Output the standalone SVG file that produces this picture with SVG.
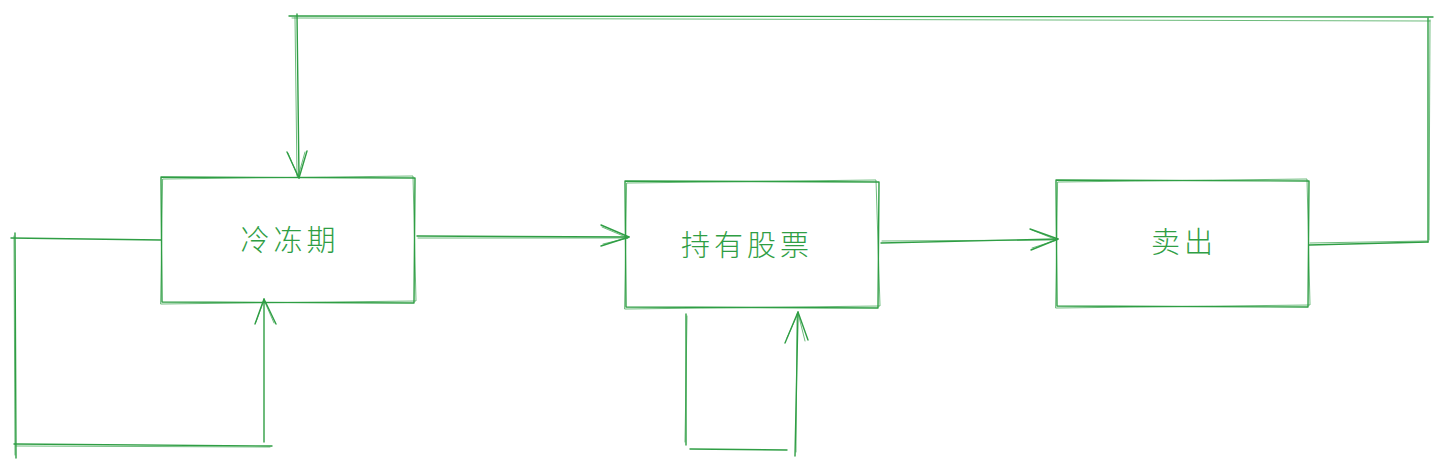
<svg xmlns="http://www.w3.org/2000/svg" width="1443" height="468" viewBox="0 0 1443 468">
<style>
.s{fill:none;stroke:#2f9e44;stroke-width:1.4;stroke-linecap:round;stroke-linejoin:round}
.s2{fill:none;stroke:#2f9e44;stroke-width:1;stroke-opacity:0.7;stroke-linecap:round}
.t{font-family:"Noto Sans CJK SC","Noto Sans",sans-serif;font-size:29px;font-weight:300;letter-spacing:4px;fill:#2f9e44;text-anchor:middle;dominant-baseline:central}
</style>
<rect width="1443" height="468" fill="#ffffff"/>
<g id="connectors">
  <g id="c-top">
    <path class="s" d="M297 14 L299 178"/>
    <path class="s2" d="M295 17 L297 176"/>
    <path class="s" d="M289 16 L1433 17"/>
    <path class="s2" d="M292 18 L1430 21"/>
    <path class="s" d="M1428 18 L1428 242"/>
    <path class="s2" d="M1430 20 L1429 240"/>
    <path class="s" d="M1309 245 L1428 242"/>
    <path class="s2" d="M1310 243 L1427 241"/>
    <path class="s" d="M287 152 L299 178 L307 151"/>
    <path class="s2" d="M288 153 L298 177 L305 152"/>
  </g>
  <g id="c-a-b">
    <path class="s" d="M417 236 L629 237"/>
    <path class="s2" d="M418 238 L628 238"/>
    <path class="s" d="M601 225 L629 237 L601 246"/>
    <path class="s2" d="M602 227 L628 238 L603 244"/>
  </g>
  <g id="c-b-c">
    <path class="s" d="M881 243 L1058 239"/>
    <path class="s2" d="M882 241 L1057 240"/>
    <path class="s" d="M1030 229 L1058 239 L1031 250"/>
    <path class="s2" d="M1032 230 L1057 240 L1032 248"/>
  </g>
  <g id="c-a-self">
    <path class="s" d="M11 238 L161 240"/>
    <path class="s" d="M15 233 L16 458"/>
    <path class="s2" d="M14 236 L15 455"/>
    <path class="s" d="M14 444 L272 446"/>
    <path class="s2" d="M16 446 L270 447"/>
    <path class="s" d="M264 442 L264 299"/>
    <path class="s" d="M255 324 L264 299 L276 324"/>
    <path class="s2" d="M256 322 L264 300 L274 323"/>
  </g>
  <g id="c-b-self">
    <path class="s" d="M686 314 L686 445"/>
    <path class="s2" d="M687 316 L685 442"/>
    <path class="s" d="M690 449 L787 450"/>
    <path class="s" d="M795 456 L798 312"/>
    <path class="s2" d="M796 452 L797 314"/>
    <path class="s" d="M785 343 L798 312 L808 340"/>
    <path class="s2" d="M787 338 L798 313 L805 341"/>
  </g>
</g>
<g id="node-cooldown">
  <path class="s" d="M161 177 L415 178 L414 303 L162 302 Z"/>
  <path class="s2" d="M163 179 L413 176 L416 301 L161 304 Z"/>
  <text class="t" x="290" y="238">冷冻期</text>
</g>
<g id="node-hold">
  <path class="s" d="M625 181 L879 182 L878 308 L626 307 Z"/>
  <path class="s2" d="M627 183 L876 180 L880 306 L625 309 Z"/>
  <text class="t" x="747" y="243">持有股票</text>
</g>
<g id="node-sell">
  <path class="s" d="M1056 180 L1309 181 L1308 307 L1057 306 Z"/>
  <path class="s2" d="M1058 182 L1307 179 L1310 305 L1056 308 Z"/>
  <text class="t" x="1184" y="240">卖出</text>
</g>
</svg>
